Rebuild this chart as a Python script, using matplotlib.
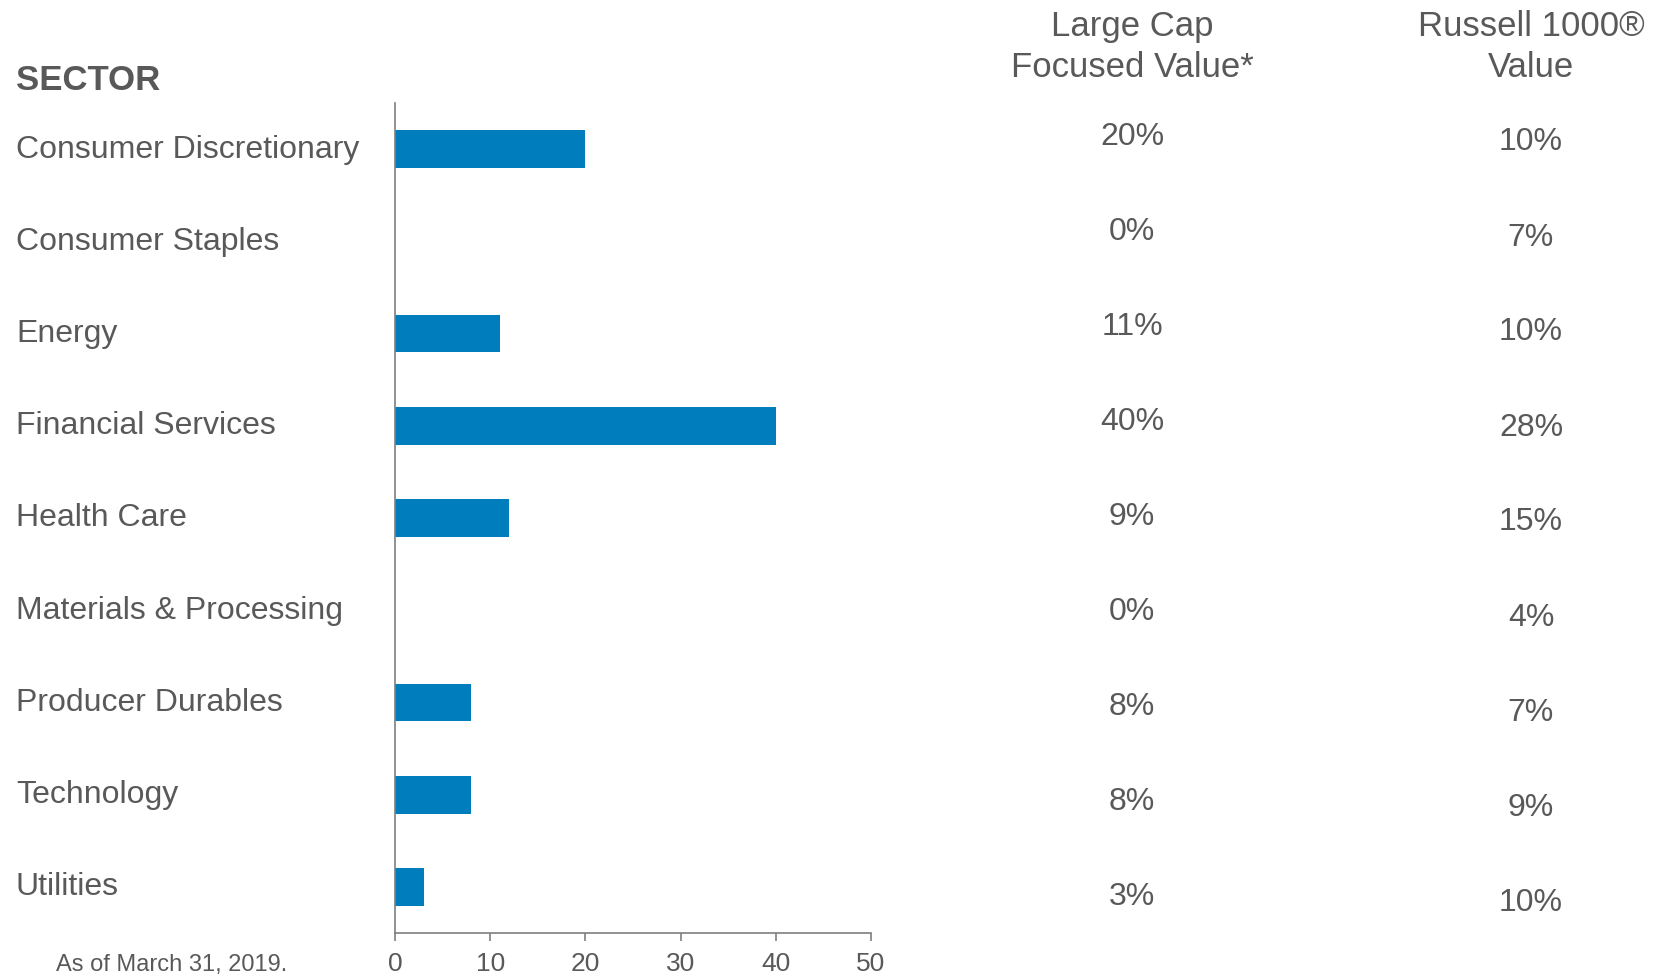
import matplotlib.pyplot as plt
from matplotlib.transforms import blended_transform_factory

plt.rcParams['font.family'] = ['Liberation Sans', 'DejaVu Sans']

sectors = ['Consumer Discretionary', 'Consumer Staples', 'Energy', 'Financial Services',
           'Health Care', 'Materials & Processing', 'Producer Durables', 'Technology', 'Utilities']
bar_values = [20, 0, 11, 40, 12, 0, 8, 8, 3]
large_cap = ['20%', '0%', '11%', '40%', '9%', '0%', '8%', '8%', '3%']
russell = ['10%', '7%', '10%', '28%', '15%', '4%', '7%', '9%', '10%']
x_ticks = [0, 10, 20, 30, 40, 50]

W, H = 1665, 980
GREY = '#595959'
BLUE = '#007DBD'

fig = plt.figure(figsize=(W / 100, H / 100), dpi=100)

# bar chart
ax = fig.add_axes([395 / W, 1 - 933 / H, 476 / W, 830 / H])
ax.barh(range(len(sectors)), bar_values, height=0.41, color=BLUE)
ax.set_ylim(len(sectors) - 0.5, -0.5)
ax.set_xlim(0, 50)
ax.set_xticks(x_ticks)
ax.set_yticks([])
for s in ['top', 'right']:
    ax.spines[s].set_visible(False)
for s in ['left', 'bottom']:
    ax.spines[s].set_color('#7f7f7f')
    ax.spines[s].set_linewidth(1.2)
ax.tick_params(axis='x', direction='out', length=6, width=1.2, color='#7f7f7f',
               labelsize=19, labelcolor=GREY, pad=8)

# sector labels, left aligned at figure edge
tr = blended_transform_factory(fig.transFigure, ax.transData)
for i, name in enumerate(sectors):
    ax.text(16 / W, i + 0.005, name, transform=tr, ha='left', va='center',
            fontsize=23, color=GREY)

fig.text(16 / W, 1 - 80 / H, 'SECTOR', ha='left', va='center', fontsize=25,
         fontweight='bold', color=GREY)

# value columns
def value_column(center, top, bottom, labels):
    cax = fig.add_axes([(center - 100) / W, 1 - bottom / H, 200 / W, (bottom - top) / H])
    cax.set_xlim(0, 1)
    cax.set_ylim(len(labels) - 0.5, -0.5)
    cax.axis('off')
    for i, lab in enumerate(labels):
        cax.text(0.5, i, lab, ha='center', va='center', fontsize=23, color=GREY)

value_column(1132, 90, 944, large_cap)
value_column(1531, 95, 950, russell)

fig.text(1132 / W, 1 - 47 / H, 'Large Cap\nFocused Value*', ha='center', va='center',
         fontsize=25, color=GREY, linespacing=1.3)
fig.text(1531 / W, 1 - 47 / H, 'Russell 1000®\nValue', ha='center', va='center',
         fontsize=25, color=GREY, linespacing=1.3)

fig.text(56 / W, 1 - 965 / H, 'As of March 31, 2019.', ha='left', va='center',
         fontsize=17, color=GREY)

fig.savefig('out.png', dpi=100)
